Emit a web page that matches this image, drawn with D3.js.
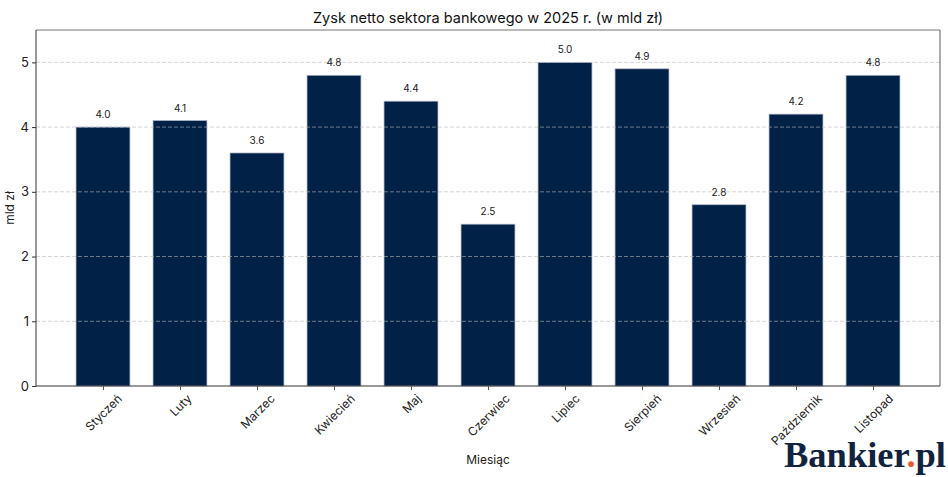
<!DOCTYPE html>
<html><head><meta charset="utf-8">
<script src="https://cdn.jsdelivr.net/npm/d3@7"></script>
<style>body{margin:0;background:#fff}svg{display:block}</style>
</head><body>
<svg id="chart" width="948" height="477"></svg>
<script>
const months = ["Styczeń","Luty","Marzec","Kwiecień","Maj","Czerwiec","Lipiec","Sierpień","Wrzesień","Październik","Listopad"];
const profit = [4.0,4.1,3.6,4.8,4.4,2.5,5.0,4.9,2.8,4.2,4.8];
const yTicks = [0,1,2,3,4,5];
const title = "Zysk netto sektora bankowego w 2025 r. (w mld zł)";
const xLabel = "Miesiąc";
const yLabel = "mld zł";

const font = "Inter, 'Open Sans', sans-serif";
const svg = d3.select("#chart");
const L = 36, R = 940, T = 30, B = 386;
const x = d3.scaleLinear().domain([-0.87, months.length - 1 + 0.87]).range([L, R]);
const y = d3.scaleLinear().domain([0, 5.5]).range([B, T]);
const bw = x(0.7) - x(0);

// bars
svg.append("g").selectAll("rect").data(profit).join("rect")
  .attr("x", (d,i) => x(i) - bw/2)
  .attr("y", d => y(d))
  .attr("width", bw)
  .attr("height", d => y(0) - y(d))
  .attr("fill", "#012147")
  .attr("stroke", "#aab3c4")
  .attr("stroke-width", 0.7);

// grid (on top, translucent)
svg.append("g").selectAll("line").data(yTicks.filter(t => t > 0)).join("line")
  .attr("x1", L).attr("x2", R)
  .attr("y1", d => y(d)).attr("y2", d => y(d))
  .attr("stroke", "#b8b8b8").attr("stroke-opacity", 0.75)
  .attr("stroke-width", 0.8).attr("stroke-dasharray", "4,2");

// value labels
svg.append("g").selectAll("text").data(profit).join("text")
  .attr("x", (d,i) => x(i))
  .attr("y", d => y(d) - 9)
  .attr("text-anchor", "middle")
  .attr("font-family", font).attr("font-size", 10).attr("fill", "#222")
  .text(d => d.toFixed(1));

// frame
svg.append("line").attr("x1", L).attr("x2", R).attr("y1", T).attr("y2", T).attr("stroke", "#777").attr("stroke-width", 1.2);
svg.append("line").attr("x1", R).attr("x2", R).attr("y1", T).attr("y2", B).attr("stroke", "#777").attr("stroke-width", 1.2);
svg.append("line").attr("x1", L).attr("x2", L).attr("y1", T).attr("y2", B).attr("stroke", "#333").attr("stroke-width", 1);
svg.append("line").attr("x1", L).attr("x2", R).attr("y1", B).attr("y2", B).attr("stroke", "#333").attr("stroke-width", 1);

// y axis ticks
const yAxis = d3.axisLeft(y).tickValues(yTicks).tickSize(4).tickPadding(3).tickFormat(d3.format("d"));
const gy = svg.append("g").attr("transform", `translate(${L},0)`).call(yAxis);
gy.select(".domain").remove();
gy.selectAll(".tick line").attr("stroke", "#333");
gy.selectAll(".tick text").attr("font-family", font).attr("font-size", 13).attr("fill", "#222");

// x axis ticks
const xAxis = d3.axisBottom(x).tickValues(d3.range(months.length)).tickSize(4).tickFormat(i => months[i]);
const gx = svg.append("g").attr("transform", `translate(0,${B})`).call(xAxis);
gx.select(".domain").remove();
gx.selectAll(".tick line").attr("stroke", "#555");
gx.selectAll(".tick text")
  .attr("font-family", font).attr("font-size", 12).attr("fill", "#222")
  .attr("text-anchor", "middle").attr("dominant-baseline", "central")
  .attr("dy", null).attr("y", null)
  .each(function() {
    const len = this.getComputedTextLength();
    const half = (len + 12) * Math.SQRT1_2 / 2;
    d3.select(this).attr("transform", `translate(0,${6 + half}) rotate(-45)`);
  });

// title & labels
svg.append("text").attr("x", (L+R)/2).attr("y", 23).attr("text-anchor", "middle")
  .attr("font-family", font).attr("font-size", 14.5).attr("fill", "#111").text(title);
svg.append("text").attr("x", (L+R)/2).attr("y", 464).attr("text-anchor", "middle")
  .attr("font-family", font).attr("font-size", 12).attr("fill", "#222").text(xLabel);
svg.append("text").attr("transform", `translate(14,${(T+B)/2}) rotate(-90)`).attr("text-anchor", "middle")
  .attr("font-family", font).attr("font-size", 12).attr("fill", "#222").text(yLabel);

// logo
const logo = svg.append("text").attr("x", 784).attr("y", 467)
  .attr("font-family", "'Liberation Serif', 'DejaVu Serif', serif").attr("font-weight", "bold")
  .attr("font-size", 35).attr("fill", "#12233f")
  .attr("textLength", 162).attr("lengthAdjust", "spacingAndGlyphs");
logo.append("tspan").text("Bankier");
logo.append("tspan").attr("fill", "#f05a28").text(".");
logo.append("tspan").text("pl");
</script>
</body></html>
